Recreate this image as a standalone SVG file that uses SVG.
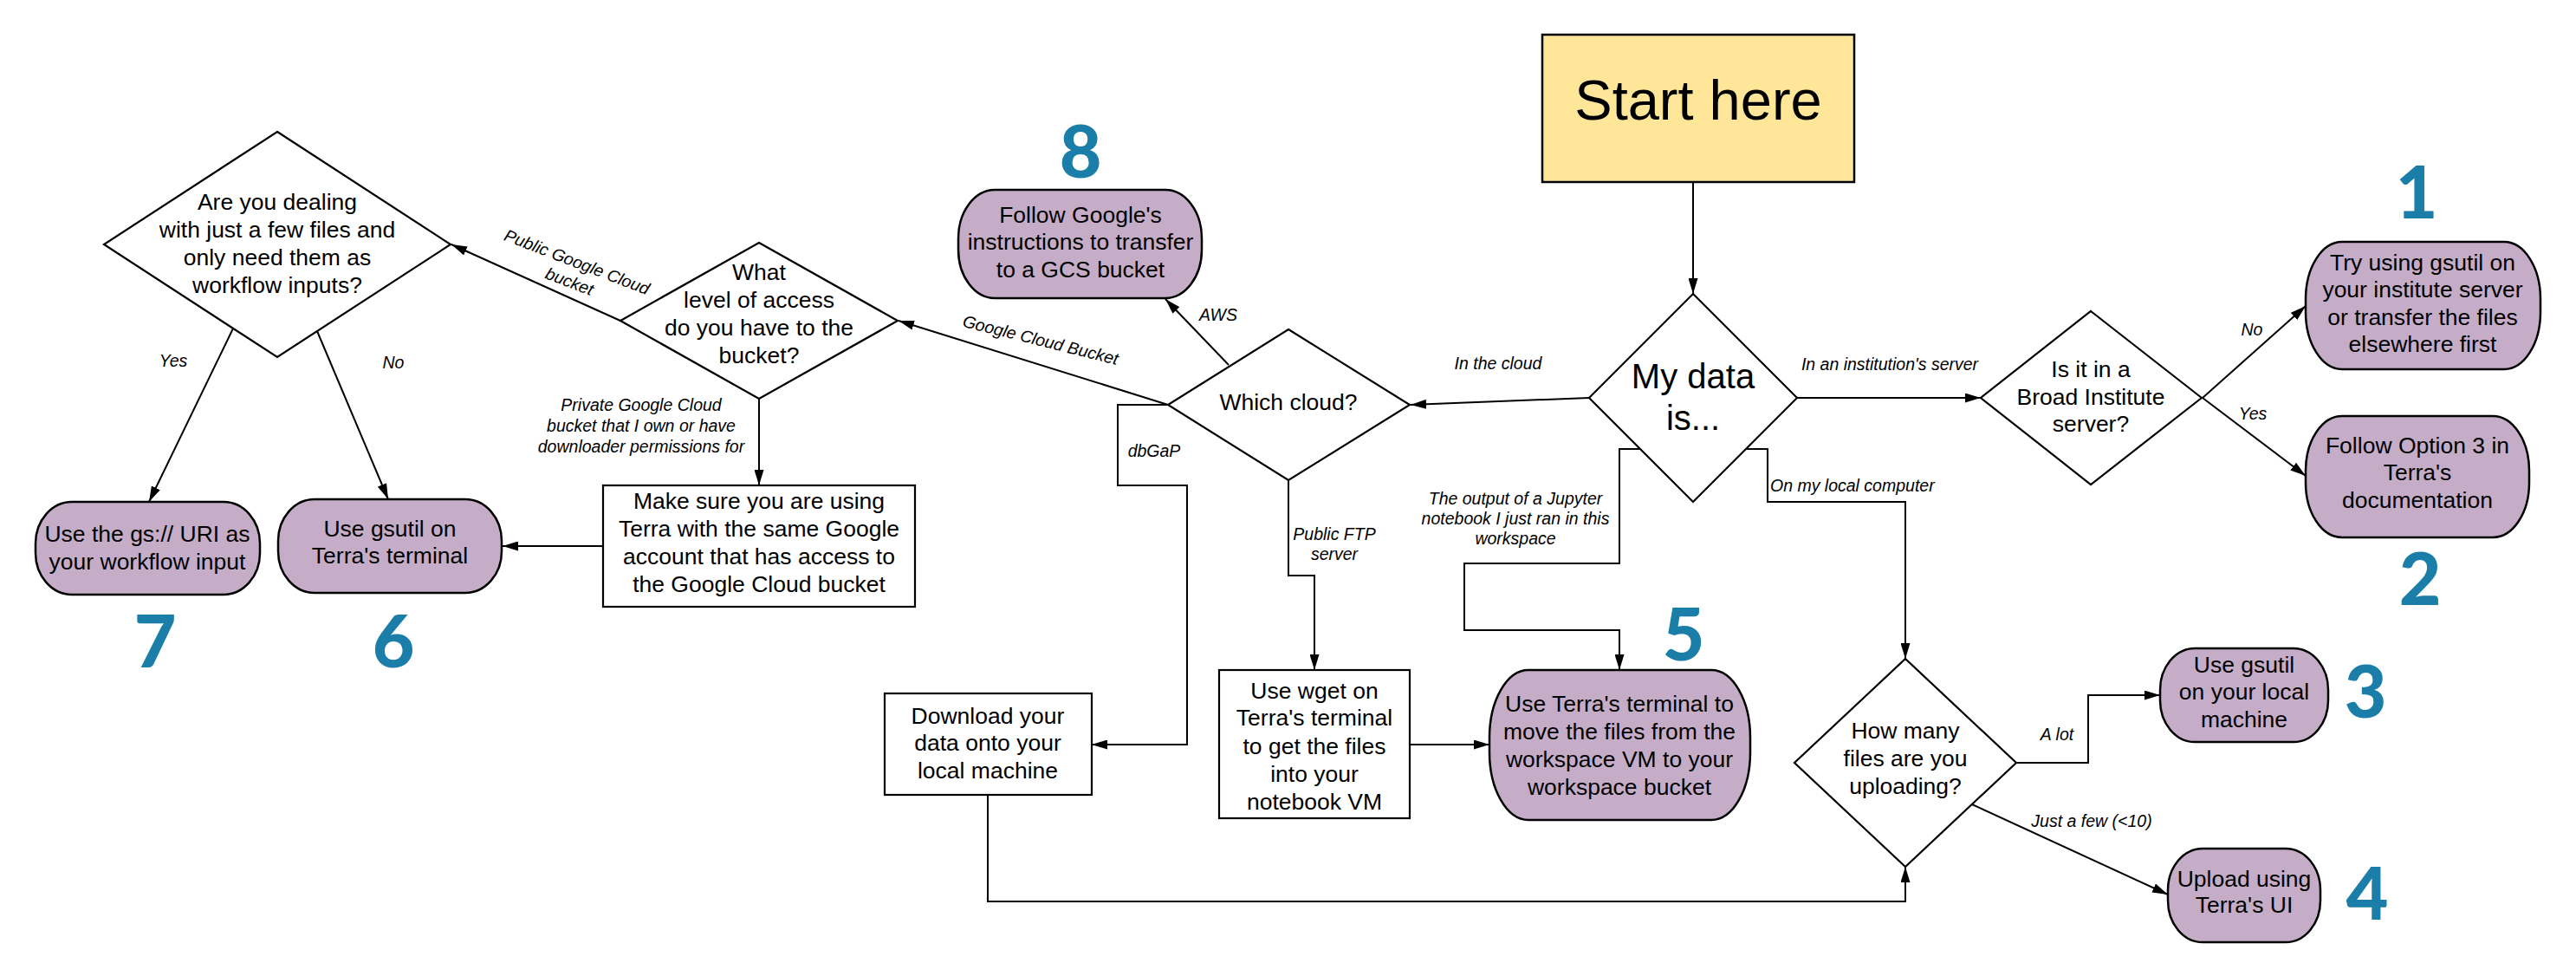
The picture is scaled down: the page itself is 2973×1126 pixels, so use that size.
<svg xmlns="http://www.w3.org/2000/svg" width="2973" height="1126" viewBox="0 0 2973 1126">
<defs>
<marker id="arr" viewBox="0 0 18 11" refX="18" refY="5.5" markerWidth="18" markerHeight="11" markerUnits="userSpaceOnUse" orient="auto"><path d="M0,0 L18,5.5 L0,11 z" fill="#000"/></marker>
<style>
.shape{fill:#fff;stroke:#000;stroke-width:2.2}
.pill{fill:#C5ADC8;stroke:#000;stroke-width:2.5}
.start{fill:#FFE699;stroke:#000;stroke-width:2.5}
.t{font-family:"Liberation Sans",Arial,sans-serif;font-size:26.5px;fill:#000;text-anchor:middle}
.lbl{font-family:"Liberation Sans",Arial,sans-serif;font-size:19.5px;font-style:italic;fill:#000;text-anchor:middle}
.num{font-family:Lato,"Liberation Sans",Arial,sans-serif;font-size:84px;font-weight:900;fill:#1A7EA8;text-anchor:middle}
.c{fill:none;stroke:#000;stroke-width:2}
.ca{fill:none;stroke:#000;stroke-width:2;marker-end:url(#arr)}
</style>
</defs>
<rect width="2973" height="1126" fill="#fff"/>

<g id="connectors">
<path class="ca" d="M1954,210 L1954,339"/>
<path class="ca" d="M2074,459 L2286,459"/>
<path class="ca" d="M2542,459 L2661,353"/>
<path class="ca" d="M2542,459 L2661,549"/>
<path class="ca" d="M1834,459 L1628,467"/>
<path class="ca" d="M1418,421 L1345,345"/>
<path class="ca" d="M1348,467 L1037,370"/>
<path class="ca" d="M716,370 L521,282"/>
<path class="ca" d="M876,460 L876,560"/>
<path class="ca" d="M696,630 L580,630"/>
<path class="ca" d="M269,379 L172,579"/>
<path class="ca" d="M366,382 L448,576"/>
<path class="ca" d="M1348,467 L1290,467 L1290,560 L1370,560 L1370,859 L1260,859"/>
<path class="ca" d="M1487,554 L1487,664 L1517,664 L1517,773"/>
<path class="ca" d="M1893,518 L1869,518 L1869,650 L1690,650 L1690,727 L1869,727 L1869,773"/>
<path class="ca" d="M2015,518 L2040,518 L2040,579 L2199,579 L2199,760"/>
<path class="ca" d="M1627,859 L1719,859"/>
<path class="ca" d="M1140,917 L1140,1040 L2199,1040 L2199,1000"/>
<path class="ca" d="M2328,880 L2410,880 L2410,802 L2493,802"/>
<path class="ca" d="M2276,928 L2502,1032"/>

<text class="lbl" x="2181" y="427">In an institution's server</text>
<text class="lbl" x="2599" y="387">No</text>
<text class="lbl" x="2600" y="484">Yes</text>
<text class="lbl" x="1729" y="426">In the cloud</text>
<text class="lbl" x="1406" y="370">AWS</text>
<g transform="translate(1201,392) rotate(14)"><text class="lbl" x="0" y="7">Google Cloud Bucket</text></g>
<g transform="translate(666,302) rotate(21)"><text class="lbl" x="0" y="7">Public Google Cloud</text><text class="lbl" x="0" y="31">bucket</text></g>
<text class="lbl" x="740" y="474">Private Google Cloud</text>
<text class="lbl" x="740" y="498">bucket that I own or have</text>
<text class="lbl" x="740" y="522">downloader permissions for</text>
<text class="lbl" x="200" y="423">Yes</text>
<text class="lbl" x="454" y="425">No</text>
<text class="lbl" x="1332" y="527">dbGaP</text>
<text class="lbl" x="1540" y="623">Public FTP</text>
<text class="lbl" x="1540" y="646">server</text>
<text class="lbl" x="1749" y="582">The output of a Jupyter</text>
<text class="lbl" x="1749" y="605">notebook I just ran in this</text>
<text class="lbl" x="1749" y="628">workspace</text>
<text class="lbl" x="2043" y="567" style="text-anchor:start">On my local computer</text>
<text class="lbl" x="2374" y="854">A lot</text>
<text class="lbl" x="2414" y="954">Just a few (&lt;10)</text>
</g>

<g id="start">
<rect class="start" x="1780" y="40" width="360" height="170"/>
<text class="t" x="1960" y="138" style="font-size:65px">Start here</text>
</g>

<g id="mydata">
<path class="shape" d="M1954,339 L2074,459 L1954,579 L1834,459 Z"/>
<text class="t" x="1954" y="448" style="font-size:40px">My data</text>
<text class="t" x="1954" y="496" style="font-size:40px">is...</text>
</g>

<g id="broad">
<path class="shape" d="M2413,359 L2541,459 L2413,559 L2286,459 Z"/>
<text class="t" x="2413" y="435">Is it in a</text>
<text class="t" x="2413" y="467">Broad Institute</text>
<text class="t" x="2413" y="498">server?</text>
</g>

<g id="try-gsutil">
<rect class="pill" x="2661" y="279" width="271" height="147" rx="42" ry="66"/>
<text class="t" x="2796" y="312">Try using gsutil on</text>
<text class="t" x="2796" y="343">your institute server</text>
<text class="t" x="2796" y="375">or transfer the files</text>
<text class="t" x="2796" y="406">elsewhere first</text>
<text class="num" x="2789" y="252">1</text>
</g>

<g id="option3">
<rect class="pill" x="2661" y="480" width="258" height="140" rx="42" ry="63"/>
<text class="t" x="2790" y="523">Follow Option 3 in</text>
<text class="t" x="2790" y="554">Terra's</text>
<text class="t" x="2790" y="586">documentation</text>
<text class="num" x="2793" y="698">2</text>
</g>

<g id="whichcloud">
<path class="shape" d="M1487,380 L1627,467 L1487,554 L1348,467 Z"/>
<text class="t" x="1487" y="473">Which cloud?</text>
</g>

<g id="google-transfer">
<rect class="pill" x="1106" y="219" width="281" height="125" rx="42" ry="56"/>
<text class="t" x="1247" y="257">Follow Google's</text>
<text class="t" x="1247" y="288">instructions to transfer</text>
<text class="t" x="1247" y="320">to a GCS bucket</text>
<text class="num" x="1247" y="205">8</text>
</g>

<g id="access">
<path class="shape" d="M876,280 L1036,370 L876,460 L716,370 Z"/>
<text class="t" x="876" y="323">What</text>
<text class="t" x="876" y="355">level of access</text>
<text class="t" x="876" y="387">do you have to the</text>
<text class="t" x="876" y="419">bucket?</text>
</g>

<g id="fewfiles">
<path class="shape" d="M320,152 L520,282 L320,412 L120,282 Z"/>
<text class="t" x="320" y="242">Are you dealing</text>
<text class="t" x="320" y="274">with just a few files and</text>
<text class="t" x="320" y="306">only need them as</text>
<text class="t" x="320" y="338">workflow inputs?</text>
</g>

<g id="makesure">
<rect class="shape" x="696" y="560" width="360" height="140"/>
<text class="t" x="876" y="587">Make sure you are using</text>
<text class="t" x="876" y="619">Terra with the same Google</text>
<text class="t" x="876" y="651">account that has access to</text>
<text class="t" x="876" y="683">the Google Cloud bucket</text>
</g>

<g id="gsuri">
<rect class="pill" x="41" y="579" width="259" height="107" rx="42" ry="48"/>
<text class="t" x="170" y="625">Use the gs:// URI as</text>
<text class="t" x="170" y="657">your workflow input</text>
<text class="num" x="179" y="770">7</text>
</g>

<g id="gsutil-terminal">
<rect class="pill" x="321" y="576" width="258" height="108" rx="42" ry="48"/>
<text class="t" x="450" y="619">Use gsutil on</text>
<text class="t" x="450" y="650">Terra's terminal</text>
<text class="num" x="454" y="770">6</text>
</g>

<g id="download">
<rect class="shape" x="1021" y="800" width="239" height="117"/>
<text class="t" x="1140" y="835">Download your</text>
<text class="t" x="1140" y="866">data onto your</text>
<text class="t" x="1140" y="898">local machine</text>
</g>

<g id="wget">
<rect class="shape" x="1407" y="773" width="220" height="171"/>
<text class="t" x="1517" y="806">Use wget on</text>
<text class="t" x="1517" y="837">Terra's terminal</text>
<text class="t" x="1517" y="870">to get the files</text>
<text class="t" x="1517" y="902">into your</text>
<text class="t" x="1517" y="934">notebook VM</text>
</g>

<g id="move-files">
<rect class="pill" x="1719" y="773" width="301" height="173" rx="45" ry="78"/>
<text class="t" x="1869" y="821">Use Terra's terminal to</text>
<text class="t" x="1869" y="853">move the files from the</text>
<text class="t" x="1869" y="885">workspace VM to your</text>
<text class="t" x="1869" y="917">workspace bucket</text>
<text class="num" x="1943" y="762">5</text>
</g>

<g id="howmany">
<path class="shape" d="M2199,760 L2327,880 L2199,1000 L2071,880 Z"/>
<text class="t" x="2199" y="852">How many</text>
<text class="t" x="2199" y="884">files are you</text>
<text class="t" x="2199" y="916">uploading?</text>
</g>

<g id="local-gsutil">
<rect class="pill" x="2493" y="748" width="194" height="108" rx="40" ry="48"/>
<text class="t" x="2590" y="776">Use gsutil</text>
<text class="t" x="2590" y="807">on your local</text>
<text class="t" x="2590" y="839">machine</text>
<text class="num" x="2730" y="828">3</text>
</g>

<g id="upload-ui">
<rect class="pill" x="2502" y="979" width="176" height="108" rx="40" ry="48"/>
<text class="t" x="2590" y="1023">Upload using</text>
<text class="t" x="2590" y="1053">Terra's UI</text>
<text class="num" x="2732" y="1061">4</text>
</g>
</svg>
